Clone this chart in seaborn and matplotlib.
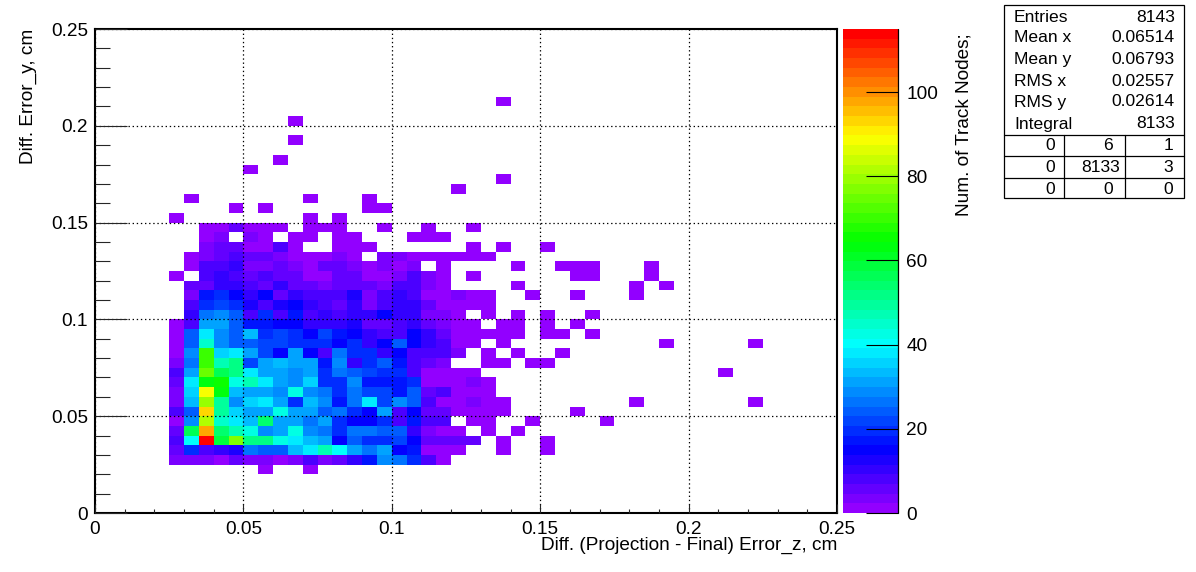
import colorsys
import numpy as np
import pandas as pd
import seaborn as sns
import matplotlib
matplotlib.use("Agg")
import matplotlib.pyplot as plt
from matplotlib.colors import ListedColormap
from matplotlib.lines import Line2D
from matplotlib.patches import Rectangle

# ---------- data: counts per bin (bin width 0.005 on both axes) ----------
first_dense_col = 5          # rows below start at x bin 5 (0.025)
row_04 = [0,0,0,0,0,0,1,0,0,1,0,0,0,0,0,0,0,0,0,0,0]
row_05 = [3,3,3,1,5,4,3,2,3,8,3,5,11,17,28,26,19,8,1,0,0]
row_06 = [5,20,8,10,12,26,24,24,34,38,46,41,30,27,30,14,17,2,2,2,0]
row_07 = [9,41,115,59,76,52,52,43,38,34,32,15,24,20,19,22,15,5,6,6,5]
row_08 = [5,56,97,53,47,43,28,30,43,28,27,19,26,26,24,24,11,4,2,2,0]
row_09 = [1,28,82,45,37,34,53,30,32,27,32,19,14,14,20,8,17,8,7,0,1]
row_10 = [9,24,92,50,36,30,30,43,32,32,24,26,19,14,30,8,14,6,6,2,2]
row_11 = [4,34,80,50,28,36,39,30,20,34,28,17,26,37,22,28,24,8,2,2,4]
row_12 = [4,36,88,63,33,30,30,28,43,28,26,19,27,22,22,17,24,6,9,1,1]
row_13 = [6,39,63,65,43,47,37,30,28,35,20,20,28,17,17,17,20,2,2,2,4]
row_14 = [9,30,74,56,52,38,30,30,28,32,19,26,24,22,19,19,8,2,2,1,1]
row_15 = [4,26,70,47,52,22,30,33,30,32,17,28,10,20,24,17,8,6,4,0,0]
row_16 = [1,28,70,36,39,30,22,15,30,14,7,27,19,19,11,14,7,8,8,4,0]
row_17 = [2,24,45,28,24,24,22,22,19,19,19,14,19,11,14,24,14,10,8,1,1]
row_18 = [2,24,39,28,24,34,19,22,19,15,22,17,14,11,8,8,14,10,5,1,1]
row_19 = [2,7,32,30,24,17,17,15,14,11,10,11,13,5,5,7,10,6,3,1,1]
row_20 = [0,10,26,28,24,8,19,8,17,8,10,8,11,11,14,10,10,4,4,1,0]
row_21 = [0,7,19,22,19,12,7,12,14,10,8,6,10,4,9,10,10,6,1,1,1]
row_22 = [0,3,17,20,14,10,14,5,10,8,8,7,12,4,8,10,7,2,1,4,1]
row_23 = [0,6,6,11,10,8,5,10,6,6,3,6,6,5,4,7,7,4,1,0,0]
row_24 = [1,0,8,10,7,5,7,5,5,1,1,6,6,1,1,4,7,4,1,0,1]
row_25 = [0,1,7,8,10,4,4,6,4,1,6,6,4,1,3,1,4,0,1,0,0]
row_26 = [0,1,3,5,7,5,5,3,1,1,1,3,1,0,3,3,1,1,1,1,1]
row_27 = [0,0,3,5,5,1,1,8,1,0,0,1,1,1,0,0,0,0,0,0,1]
row_28 = [0,0,1,3,0,4,1,0,1,1,0,1,1,0,0,0,1,1,1,0,0]
row_29 = [0,0,1,1,5,1,1,1,0,1,1,1,0,0,1,0,0,1,0,0,1]
row_30 = [1,0,0,0,0,0,0,0,0,1,0,1,0,0,0,0,0,0,0,0,0]
row_31 = [0,0,0,0,1,0,1,0,0,0,0,0,0,1,1,0,0,0,0,0,0]
row_32 = [0,1,0,0,0,0,0,0,0,1,0,0,0,1,0,0,0,0,0,0,0]
row_33 = [0,0,0,0,0,0,0,0,0,0,0,0,0,0,0,0,0,0,0,1,0]

# isolated single-count cells further right / higher up
tail_col = [27,30, 27,30, 26,28, 26,29,34, 26,27,32, 26,27,36,44, 26, 26, 42,
            26,27,29,30, 26,28,31, 27,38,44, 26,27,28,30,31,33, 27,28,30,32,
            26,28,30,33, 26, 26,29,32,36, 28,36,38, 32,33,37, 28,31,32,33,37,
            26, 27,30, 10,12,13,13,27,27]
tail_row = [6,6, 7,7, 8,8, 9,9,9, 10,10,10, 11,11,11,11, 12, 13, 14,
            15,15,15,15, 16,16,16, 17,17,17, 18,18,18,18,18,18, 19,19,19,19,
            20,20,20,20, 21, 22,22,22,22, 23,23,23, 24,24,24, 25,25,25,25,25,
            26, 27,27, 35,36,38,40,34,42]
tail_count = [1] * len(tail_col)

x_ticks = [0, 0.05, 0.1, 0.15, 0.2, 0.25]
y_ticks = [0, 0.05, 0.1, 0.15, 0.2, 0.25]
x_tick_labels = ["0", "0.05", "0.1", "0.15", "0.2", "0.25"]
y_tick_labels = ["0", "0.05", "0.1", "0.15", "0.2", "0.25"]
z_ticks = [0, 20, 40, 60, 80, 100]
z_max = 115
bin_width = 0.005
n_bins = 50

stat_names = ["Entries", "Mean x", "Mean y", "RMS x", "RMS y", "Integral"]
stat_values = ["8143", "0.06514", "0.06793", "0.02557", "0.02614", "8133"]
overflow_cells = [["0", "6", "1"], ["0", "8133", "3"], ["0", "0", "0"]]

x_title = "Diff. (Projection - Final) Error_z, cm"
y_title = "Diff. Error_y, cm"
z_title = "Num. of Track Nodes;"

# ---------- assemble the histogram ----------
dense_rows = [row_04, row_05, row_06, row_07, row_08, row_09, row_10, row_11,
              row_12, row_13, row_14, row_15, row_16, row_17, row_18, row_19,
              row_20, row_21, row_22, row_23, row_24, row_25, row_26, row_27,
              row_28, row_29, row_30, row_31, row_32, row_33]
counts = np.zeros((n_bins, n_bins))
for j, row in enumerate(dense_rows, start=4):
    counts[j, first_dense_col:first_dense_col + len(row)] = row
for c, r, v in zip(tail_col, tail_row, tail_count):
    counts[r, c] = v
table = pd.DataFrame(counts)

# ROOT's "pretty" palette: 50 levels, hue 280 -> 0
palette = [colorsys.hls_to_rgb((280 - (i + 1) * 5.6) / 360, 0.5, 1.0) for i in range(50)]
cmap = ListedColormap(palette)

# ---------- figure ----------
sns.set_theme(style="white")
plt.rcParams["font.family"] = ["Liberation Sans", "DejaVu Sans"]
plt.rcParams["axes.unicode_minus"] = False
W, H = 1196, 572
fig = plt.figure(figsize=(W / 100, H / 100), dpi=100, facecolor="white")


def px_rect(x0, y0, x1, y1):
    return [x0 / W, 1 - y1 / H, (x1 - x0) / W, (y1 - y0) / H]


ax = fig.add_axes(px_rect(95, 29, 837, 513))
cax = fig.add_axes(px_rect(843, 29, 898, 513))
sns.heatmap(table, mask=counts == 0, cmap=cmap, vmin=0, vmax=z_max, ax=ax, cbar_ax=cax,
            xticklabels=False, yticklabels=False)
ax.set_xlim(0, n_bins)
ax.set_ylim(0, n_bins)
ax.set_xlabel("")
ax.set_ylabel("")

for s in ax.spines.values():
    s.set_visible(True)
    s.set_linewidth(1.5)
    s.set_color("black")

fs = 13.7
ax.set_xticks([v / bin_width for v in x_ticks])
ax.set_xticklabels(x_tick_labels, fontsize=fs, color="black")
ax.set_yticks([v / bin_width for v in y_ticks])
ax.set_yticklabels(y_tick_labels, fontsize=fs, color="black", rotation=0)
minor = [k * 0.01 / bin_width for k in range(26)]
ax.set_xticks(minor, minor=True)
ax.set_yticks(minor, minor=True)
ax.tick_params(axis="x", which="major", direction="in", length=6.5, width=0.8, pad=6, bottom=True)
ax.tick_params(axis="x", which="minor", direction="in", length=3.1, width=0.8, bottom=True)
ax.tick_params(axis="y", which="major", direction="in", length=23, width=0.8, pad=5, left=True)
ax.tick_params(axis="y", which="minor", direction="in", length=11, width=0.8, left=True)
ax.set_axisbelow(False)
ax.grid(True, which="major", color="black", linestyle=(0, (1.1, 2.2)), linewidth=0.9)

cb = ax.collections[0].colorbar
cb.set_ticks(z_ticks)
cb.set_ticklabels([str(v) for v in z_ticks])
cb.ax.tick_params(direction="in", length=23, width=0.8, labelsize=fs, pad=6, right=True, colors="black")
cb.ax.set_axisbelow(False)
for t in cb.ax.yaxis.get_major_ticks():
    t.tick2line.set_zorder(5)
cb.outline.set_visible(False)


def ftext(x, y, s, **kw):
    fig.text(x / W, 1 - y / H, s, color="black", **kw)


def fline(x0, y0, x1, y1):
    fig.add_artist(Line2D([x0 / W, x1 / W], [1 - y0 / H, 1 - y1 / H], color="black",
                          linewidth=0.9, transform=fig.transFigure))


fline(898, 29, 898, 513)   # right edge of the colour bar

ftext(837, 545, x_title, ha="right", va="center", fontsize=fs)
ftext(28, 29, y_title, ha="center", va="top", rotation=90, fontsize=fs)
ftext(964, 33, z_title, ha="center", va="top", rotation=90, fontsize=fs)

# ---------- statistics box ----------
fig.add_artist(Rectangle((1004 / W, 1 - 198 / H), 180 / W, 193 / H, fill=False,
                         edgecolor="black", linewidth=0.9, transform=fig.transFigure))
for yy in (135, 156, 177.5):
    fline(1004, yy, 1184, yy)
for xx in (1064, 1124.5):
    fline(xx, 135, xx, 198)

stat_fs = 12.6
stat_y = [17, 38, 59.5, 81, 102, 124]
for name, val, yy in zip(stat_names, stat_values, stat_y):
    ftext(1014, yy, name, ha="left", va="center", fontsize=stat_fs)
    ftext(1175, yy, val, ha="right", va="center", fontsize=stat_fs)
cell_y = [146, 167, 189]
cell_right = [[1055, 1113, 1173], [1055, 1120.5, 1173], [1055, 1113, 1173]]
for row_vals, row_right, yy in zip(overflow_cells, cell_right, cell_y):
    for val, xx in zip(row_vals, row_right):
        ftext(xx, yy, val, ha="right", va="center", fontsize=stat_fs)

fig.savefig("out.png", dpi=100, facecolor="white")
